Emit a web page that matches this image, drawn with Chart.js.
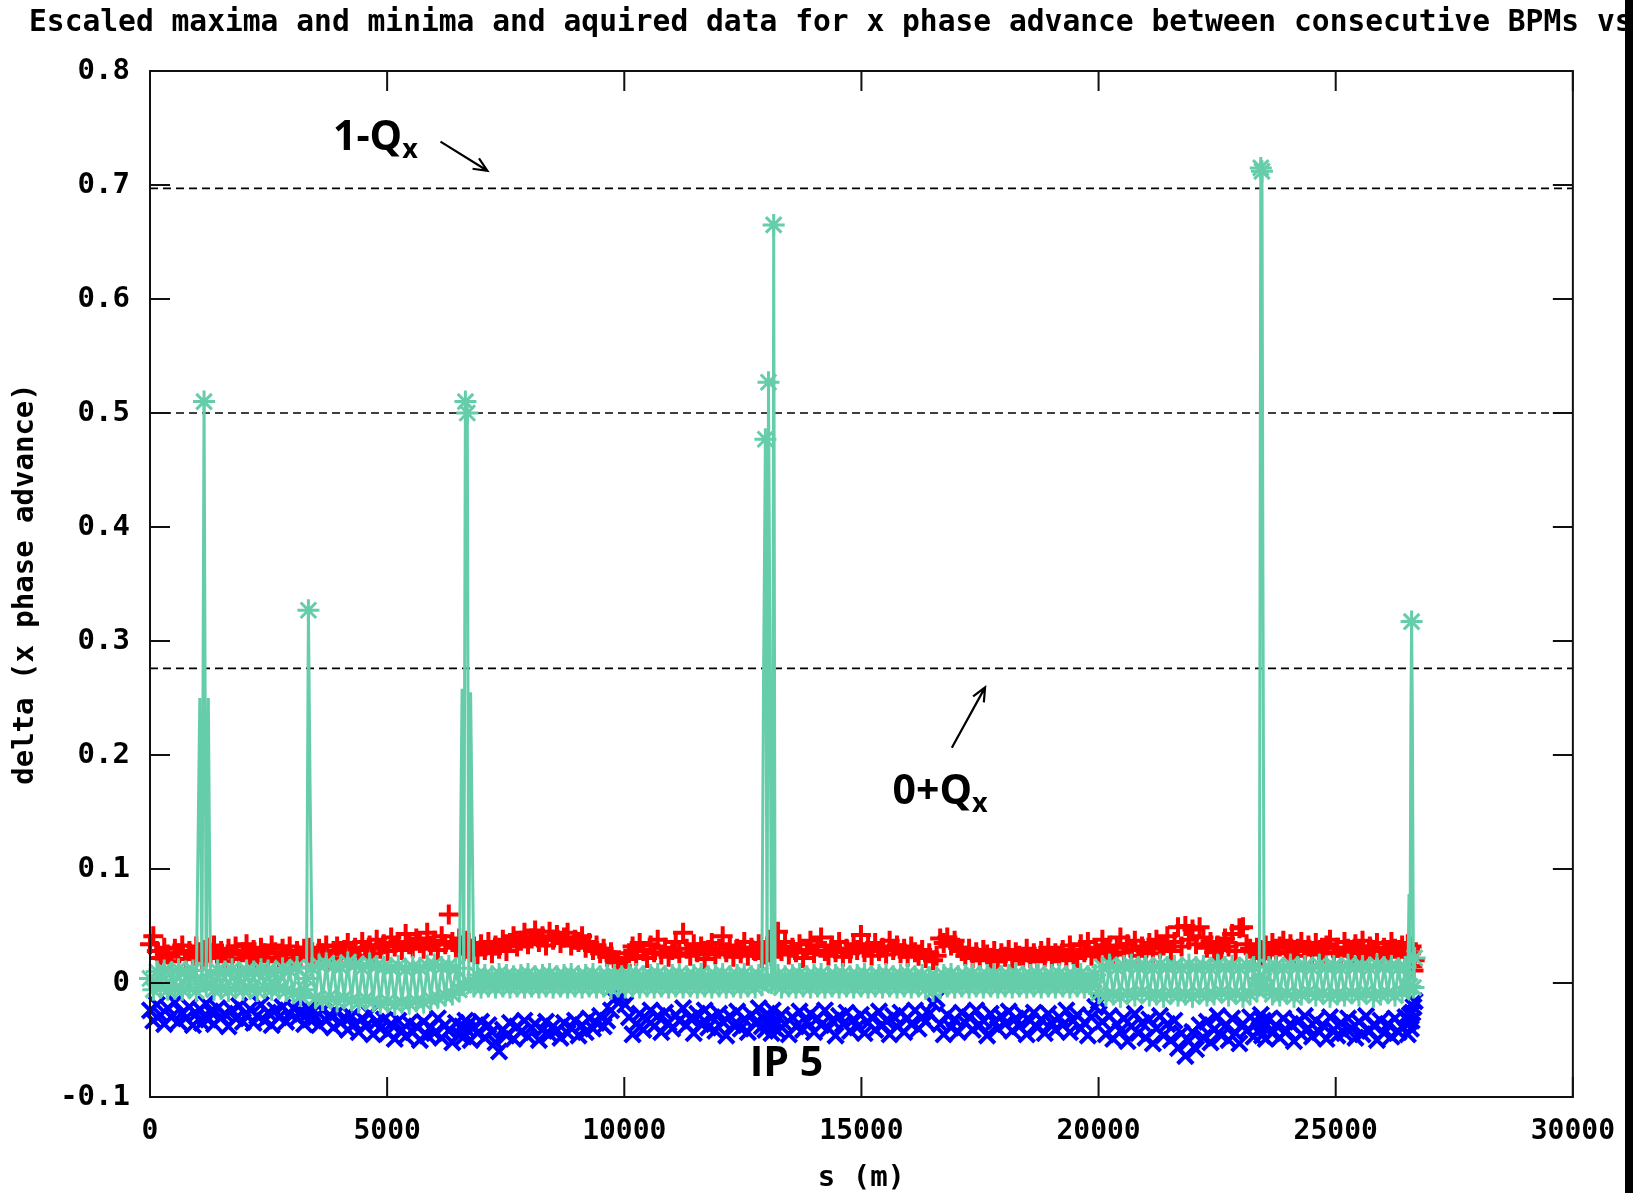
<!DOCTYPE html>
<html>
<head>
<meta charset="utf-8">
<title>x phase advance between consecutive BPMs</title>
<script src="https://cdn.jsdelivr.net/npm/chart.js@4.4.1/dist/chart.umd.min.js"></script>
<style>
  html, body { margin: 0; padding: 0; background: #fff; }
  #wrap { width: 1633px; height: 1193px; position: relative; }
</style>
</head>
<body>
<div id="wrap"><canvas id="phase-chart"></canvas></div>
<script>

// data =======================================================================

// BPM positions s (m)
const sPos = [
  0, 70, 145, 220, 300, 375, 450, 525, 600, 680,
  755, 830, 905, 975, 1050, 1095, 1140, 1185, 1230, 1275,
  1350, 1425, 1500, 1580, 1655, 1730, 1805, 1880, 1960, 2035,
  2110, 2185, 2260, 2340, 2415, 2490, 2565, 2640, 2720, 2795,
  2870, 2945, 3020, 3100, 3175, 3250, 3300, 3340, 3375, 3420,
  3490, 3565, 3640, 3715, 3790, 3870, 3945, 4020, 4095, 4170,
  4250, 4325, 4400, 4475, 4550, 4630, 4705, 4780, 4855, 4930,
  5010, 5085, 5160, 5235, 5310, 5390, 5465, 5540, 5615, 5690,
  5770, 5845, 5920, 5995, 6070, 6150, 6225, 6300, 6375, 6450,
  6520, 6580, 6615, 6650, 6690, 6720, 6760, 6830, 6905, 6980,
  7060, 7135, 7210, 7285, 7360, 7440, 7515, 7590, 7665, 7740,
  7820, 7895, 7970, 8045, 8120, 8200, 8275, 8350, 8425, 8500,
  8580, 8655, 8730, 8805, 8880, 8960, 9035, 9110, 9185, 9260,
  9340, 9415, 9490, 9565, 9640, 9720, 9795, 9870, 9945, 10020,
  10100, 10175, 10250, 10325, 10400, 10480, 10555, 10630, 10705, 10780,
  10860, 10935, 11010, 11085, 11160, 11240, 11315, 11390, 11465, 11540,
  11620, 11695, 11770, 11845, 11920, 12000, 12075, 12150, 12225, 12300,
  12380, 12455, 12530, 12605, 12680, 12760, 12835, 12900, 12935, 12975,
  13010, 13040, 13075, 13105, 13130, 13150, 13180, 13240, 13315, 13390,
  13470, 13545, 13620, 13695, 13770, 13850, 13925, 14000, 14075, 14150,
  14230, 14305, 14380, 14455, 14530, 14610, 14685, 14760, 14835, 14910,
  14990, 15065, 15140, 15215, 15290, 15370, 15445, 15520, 15595, 15670,
  15750, 15825, 15900, 15975, 16050, 16130, 16205, 16280, 16355, 16430,
  16510, 16585, 16660, 16735, 16810, 16890, 16965, 17040, 17115, 17190,
  17270, 17345, 17420, 17495, 17570, 17650, 17725, 17800, 17875, 17950,
  18030, 18105, 18180, 18255, 18330, 18410, 18485, 18560, 18635, 18710,
  18790, 18865, 18940, 19015, 19090, 19170, 19245, 19320, 19395, 19470,
  19550, 19625, 19700, 19775, 19850, 19930, 20005, 20080, 20155, 20230,
  20310, 20385, 20460, 20535, 20610, 20690, 20765, 20840, 20915, 20990,
  21070, 21145, 21220, 21295, 21370, 21450, 21525, 21600, 21675, 21750,
  21830, 21905, 21980, 22055, 22130, 22210, 22285, 22360, 22435, 22510,
  22590, 22665, 22740, 22815, 22890, 22970, 23045, 23120, 23195, 23270,
  23340, 23390, 23420, 23445, 23465, 23490, 23525, 23590, 23665, 23740,
  23820, 23895, 23970, 24045, 24120, 24200, 24275, 24350, 24425, 24500,
  24580, 24655, 24730, 24805, 24880, 24960, 25035, 25110, 25185, 25260,
  25340, 25415, 25490, 25565, 25640, 25720, 25795, 25870, 25945, 26020,
  26100, 26175, 26250, 26325, 26400, 26470, 26520, 26545, 26565, 26585,
  26600, 26615, 26640, 26665
];

// escaled maxima (red +)
const maxima = [
  0.034, 0.041, 0.028, 0.022, 0.031, 0.025, 0.019, 0.030, 0.026, 0.033,
  0.021, 0.028, 0.024, 0.032, 0.027, 0.020, 0.029, 0.023, 0.031, 0.026,
  0.033, 0.022, 0.028, 0.019, 0.030, 0.025, 0.032, 0.021, 0.027, 0.034,
  0.024, 0.029, 0.020, 0.031, 0.026, 0.022, 0.033, 0.027, 0.019, 0.030,
  0.025, 0.032, 0.021, 0.028, 0.024, 0.030, 0.026, 0.022, 0.031, 0.027,
  0.023, 0.030, 0.026, 0.033, 0.021, 0.028, 0.032, 0.025, 0.029, 0.035,
  0.027, 0.031, 0.024, 0.036, 0.029, 0.033, 0.026, 0.038, 0.030, 0.034,
  0.028, 0.040, 0.032, 0.036, 0.029, 0.043, 0.034, 0.031, 0.039, 0.035,
  0.030, 0.044, 0.033, 0.037, 0.029, 0.041, 0.034, 0.060, 0.036, 0.031,
  0.039, 0.033, 0.028, 0.037, 0.030, 0.035, 0.027, 0.032, 0.025, 0.034,
  0.029, 0.036, 0.026, 0.033, 0.030, 0.038, 0.028, 0.035, 0.041, 0.032,
  0.037, 0.044, 0.034, 0.039, 0.046, 0.036, 0.041, 0.033, 0.045, 0.038,
  0.042, 0.035, 0.040, 0.044, 0.033, 0.038, 0.036, 0.041, 0.031, 0.035,
  0.029, 0.033, 0.026, 0.030, 0.023, 0.027, 0.020, 0.018, 0.015, 0.021,
  0.026, 0.032, 0.024, 0.035, 0.028, 0.022, 0.033, 0.027, 0.038, 0.025,
  0.031, 0.023, 0.029, 0.036, 0.026, 0.044, 0.030, 0.024, 0.034, 0.027,
  0.032, 0.021, 0.029, 0.035, 0.025, 0.030, 0.041, 0.027, 0.033, 0.023,
  0.030, 0.026, 0.036, 0.024, 0.031, 0.028, 0.034, 0.022, 0.029, 0.025,
  0.032, 0.027, 0.035, 0.023, 0.030, 0.026, 0.033, 0.045, 0.028, 0.036,
  0.025, 0.031, 0.027, 0.034, 0.022, 0.029, 0.037, 0.026, 0.032, 0.040,
  0.028, 0.024, 0.033, 0.027, 0.036, 0.023, 0.030, 0.026, 0.034, 0.029,
  0.042, 0.027, 0.032, 0.024, 0.035, 0.028, 0.031, 0.025, 0.037, 0.029,
  0.033, 0.026, 0.030, 0.023, 0.032, 0.027, 0.024, 0.029, 0.022, 0.026,
  0.020, 0.024, 0.039, 0.035, 0.040, 0.033, 0.037, 0.031, 0.028, 0.024,
  0.030, 0.022, 0.027, 0.020, 0.029, 0.025, 0.021, 0.028, 0.019, 0.026,
  0.023, 0.029, 0.021, 0.027, 0.024, 0.020, 0.030, 0.022, 0.026, 0.019,
  0.028, 0.023, 0.031, 0.021, 0.026, 0.024, 0.029, 0.020, 0.033, 0.025,
  0.022, 0.034, 0.027, 0.036, 0.024, 0.030, 0.026, 0.038, 0.028, 0.033,
  0.025, 0.031, 0.040, 0.027, 0.034, 0.029, 0.037, 0.024, 0.032, 0.028,
  0.035, 0.026, 0.038, 0.030, 0.033, 0.041, 0.028, 0.036, 0.049, 0.032,
  0.050, 0.038, 0.047, 0.034, 0.049, 0.040, 0.031, 0.036, 0.027, 0.033,
  0.029, 0.039, 0.032, 0.043, 0.028, 0.048, 0.049, 0.034, 0.030, 0.026,
  0.031, 0.024, 0.029, 0.022, 0.027, 0.025, 0.033, 0.028, 0.035, 0.026,
  0.032, 0.037, 0.027, 0.034, 0.024, 0.030, 0.036, 0.028, 0.033, 0.025,
  0.035, 0.029, 0.026, 0.033, 0.038, 0.027, 0.031, 0.024, 0.036, 0.030,
  0.026, 0.034, 0.028, 0.037, 0.025, 0.032, 0.029, 0.035, 0.024, 0.031,
  0.027, 0.036, 0.030, 0.025, 0.033, 0.028, 0.034, 0.023, 0.030, 0.026,
  0.032, 0.015, 0.011, 0.020
];

// escaled minima (blue x)
const minima = [
  -0.024, -0.033, -0.019, -0.028, -0.036, -0.022, -0.030, -0.017, -0.034, -0.026,
  -0.031, -0.021, -0.037, -0.027, -0.023, -0.035, -0.029, -0.018, -0.032, -0.025,
  -0.036, -0.022, -0.030, -0.027, -0.038, -0.024, -0.031, -0.020, -0.034, -0.028,
  -0.023, -0.035, -0.029, -0.019, -0.033, -0.026, -0.037, -0.024, -0.030, -0.021,
  -0.034, -0.027, -0.022, -0.031, -0.025, -0.036, -0.028, -0.023, -0.032, -0.026,
  -0.030, -0.037, -0.024, -0.033, -0.028, -0.039, -0.026, -0.035, -0.030, -0.041,
  -0.029, -0.036, -0.043, -0.031, -0.038, -0.027, -0.045, -0.034, -0.040, -0.032,
  -0.044, -0.036, -0.049, -0.033, -0.041, -0.047, -0.035, -0.043, -0.038, -0.050,
  -0.034, -0.046, -0.039, -0.044, -0.031, -0.048, -0.037, -0.042, -0.052, -0.035,
  -0.045, -0.038, -0.047, -0.033, -0.041, -0.036, -0.050, -0.039, -0.044, -0.034,
  -0.048, -0.037, -0.043, -0.052, -0.060, -0.041, -0.046, -0.035, -0.049, -0.038,
  -0.043, -0.033, -0.047, -0.039, -0.036, -0.050, -0.041, -0.034, -0.045, -0.038,
  -0.042, -0.048, -0.035, -0.044, -0.039, -0.033, -0.046, -0.037, -0.043, -0.031,
  -0.040, -0.035, -0.029, -0.038, -0.033, -0.024, -0.014, -0.008, -0.011, -0.019,
  -0.030, -0.045, -0.036, -0.027, -0.041, -0.032, -0.024, -0.038, -0.029, -0.043,
  -0.026, -0.035, -0.040, -0.028, -0.033, -0.022, -0.037, -0.031, -0.044, -0.027,
  -0.036, -0.024, -0.039, -0.030, -0.042, -0.027, -0.034, -0.046, -0.029, -0.037,
  -0.025, -0.040, -0.032, -0.043, -0.028, -0.035, -0.022, -0.038, -0.031, -0.041,
  -0.027, -0.036, -0.030, -0.044, -0.024, -0.039, -0.033, -0.042, -0.028, -0.036,
  -0.045, -0.030, -0.038, -0.025, -0.041, -0.034, -0.027, -0.043, -0.031, -0.037,
  -0.024, -0.040, -0.033, -0.046, -0.029, -0.036, -0.026, -0.042, -0.032, -0.039,
  -0.028, -0.044, -0.035, -0.030, -0.041, -0.025, -0.037, -0.033, -0.045, -0.029,
  -0.038, -0.026, -0.043, -0.031, -0.036, -0.024, -0.040, -0.030, -0.034, -0.027,
  -0.018, -0.014, -0.036, -0.045, -0.028, -0.039, -0.032, -0.043, -0.026, -0.035,
  -0.030, -0.041, -0.024, -0.037, -0.033, -0.046, -0.027, -0.034, -0.040, -0.029,
  -0.036, -0.025, -0.042, -0.031, -0.038, -0.028, -0.045, -0.033, -0.026, -0.039,
  -0.032, -0.044, -0.027, -0.035, -0.041, -0.030, -0.037, -0.024, -0.043, -0.033,
  -0.028, -0.040, -0.035, -0.046, -0.030, -0.021, -0.016, -0.034, -0.045, -0.029,
  -0.049, -0.036, -0.042, -0.031, -0.051, -0.038, -0.027, -0.044, -0.035, -0.048,
  -0.032, -0.053, -0.040, -0.029, -0.046, -0.036, -0.050, -0.033, -0.057, -0.044,
  -0.064, -0.051, -0.043, -0.058, -0.037, -0.048, -0.034, -0.052, -0.041, -0.029,
  -0.046, -0.038, -0.050, -0.031, -0.044, -0.053, -0.036, -0.042, -0.030, -0.047,
  -0.035, -0.041, -0.028, -0.046, -0.033, -0.039, -0.049, -0.032, -0.044, -0.037,
  -0.048, -0.031, -0.042, -0.036, -0.051, -0.034, -0.045, -0.029, -0.040, -0.047,
  -0.033, -0.043, -0.037, -0.049, -0.030, -0.041, -0.046, -0.035, -0.044, -0.031,
  -0.040, -0.048, -0.034, -0.045, -0.029, -0.042, -0.037, -0.050, -0.033, -0.044,
  -0.036, -0.047, -0.031, -0.043, -0.038, -0.030, -0.045, -0.034, -0.028, -0.040,
  -0.033, -0.026, -0.021, -0.016
];

// aquired data (green *, joined)
const acquired = [
  0.004, -0.006, 0.010, -0.004, 0.011, -0.006, 0.009, -0.005, 0.012, -0.006,
  0.010, -0.004, 0.011, -0.007, 0.250, 0.002, 0.510, -0.002, 0.250, 0.007,
  -0.006, 0.011, -0.005, 0.010, -0.007, 0.012, -0.004, 0.009, -0.006, 0.011,
  -0.005, 0.010, -0.007, 0.012, -0.004, 0.011, -0.006, 0.009, -0.005, 0.013,
  -0.007, 0.011, -0.009, 0.014, -0.011, -0.006, 0.004, 0.327, 0.172, 0.013,
  -0.013, 0.016, -0.015, 0.017, -0.012, 0.015, -0.016, 0.014, -0.013, 0.018,
  -0.015, 0.016, -0.017, 0.013, -0.014, 0.017, -0.016, 0.015, -0.018, 0.014,
  -0.016, 0.013, -0.019, 0.015, -0.017, 0.012, -0.018, 0.014, -0.016, 0.013,
  -0.017, 0.015, -0.014, 0.016, -0.013, 0.014, -0.011, 0.015, -0.010, 0.013,
  -0.006, 0.258, -0.002, 0.510, 0.500, 0.001, 0.255, -0.003, 0.007, -0.004,
  0.007, -0.003, 0.006, -0.004, 0.008, -0.003, 0.007, -0.004, 0.006, -0.003,
  0.007, -0.004, 0.008, -0.003, 0.006, -0.004, 0.007, -0.003, 0.008, -0.004,
  0.006, -0.003, 0.007, -0.004, 0.008, -0.003, 0.006, -0.004, 0.007, -0.003,
  0.008, -0.004, 0.006, -0.003, 0.007, -0.005, 0.007, -0.003, 0.006, -0.004,
  0.007, -0.003, 0.008, -0.004, 0.006, -0.003, 0.007, -0.004, 0.008, -0.003,
  0.006, -0.004, 0.007, -0.003, 0.008, -0.004, 0.006, -0.003, 0.007, -0.004,
  0.008, -0.003, 0.006, -0.004, 0.007, -0.003, 0.008, -0.004, 0.006, -0.003,
  0.007, -0.004, 0.008, -0.003, 0.006, -0.004, 0.007, -0.002, 0.260, 0.477,
  0.004, 0.527, 0.262, 0.000, 0.003, 0.665, -0.001, 0.007, -0.004, 0.006,
  -0.003, 0.007, -0.004, 0.008, -0.003, 0.006, -0.004, 0.007, -0.003, 0.008,
  -0.004, 0.006, -0.003, 0.007, -0.004, 0.008, -0.003, 0.006, -0.004, 0.007,
  -0.003, 0.008, -0.004, 0.006, -0.003, 0.007, -0.004, 0.008, -0.003, 0.006,
  -0.004, 0.007, -0.003, 0.008, -0.004, 0.006, -0.003, 0.007, -0.005, 0.005,
  -0.007, 0.005, -0.004, 0.007, -0.003, 0.008, -0.004, 0.006, -0.003, 0.007,
  -0.004, 0.008, -0.003, 0.006, -0.004, 0.007, -0.003, 0.008, -0.004, 0.006,
  -0.003, 0.007, -0.004, 0.008, -0.003, 0.006, -0.004, 0.007, -0.003, 0.008,
  -0.004, 0.006, -0.003, 0.007, -0.004, 0.008, -0.003, 0.006, -0.004, 0.007,
  -0.003, 0.008, -0.004, 0.006, -0.003, 0.007, -0.009, 0.014, -0.011, 0.016,
  -0.010, 0.013, -0.012, 0.015, -0.009, 0.016, -0.011, 0.014, -0.008, 0.015,
  -0.011, 0.013, -0.010, 0.016, -0.012, 0.014, -0.009, 0.015, -0.011, 0.013,
  -0.010, 0.016, -0.012, 0.014, -0.009, 0.015, -0.011, 0.013, -0.010, 0.016,
  -0.008, 0.014, -0.011, 0.015, -0.009, 0.013, -0.012, 0.016, -0.010, 0.014,
  -0.006, 0.004, 0.715, 0.712, 0.360, 0.002, -0.005, 0.014, -0.010, 0.015,
  -0.011, 0.013, -0.009, 0.016, -0.012, 0.014, -0.010, 0.015, -0.008, 0.013,
  -0.011, 0.016, -0.009, 0.014, -0.012, 0.015, -0.010, 0.013, -0.011, 0.016,
  -0.009, 0.014, -0.011, 0.015, -0.008, 0.013, -0.012, 0.016, -0.010, 0.014,
  -0.009, 0.015, -0.011, 0.013, -0.008, 0.014, -0.004, 0.078, -0.003, 0.238,
  0.317, 0.240, -0.004, 0.022
];

// dashed reference levels: 1-Qx, 0.5, 0+Qx
const refLines = [0.697, 0.5, 0.276];

const chartTitle = 'Escaled maxima and minima and aquired data for x phase advance between consecutive BPMs vs s';


// helpers ====================================================================

const monoFont = '"DejaVu Sans Mono", "Liberation Mono", monospace';
const noteFont = '"Open Sans", "Noto Sans", sans-serif';
const red = '#ff0000';
const blue = '#0000ff';
const green = '#66cdaa';

const toPoints = values => values.map((v, i) => ({ x: sPos[i], y: v }));

// gnuplot shows no star on the low shoulders beside each spike
function isShoulder(i) {
  const v = acquired[i];
  if (v <= 0.05) return false;
  const prev = i > 0 ? acquired[i - 1] : -1;
  const next = i < acquired.length - 1 ? acquired[i + 1] : -1;
  return v < 0.3 || Math.max(prev, next) > v + 0.08;
}

function drawArrow(ctx, x1, y1, x2, y2) {
  const ang = Math.atan2(y2 - y1, x2 - x1);
  const head = 15;
  ctx.beginPath();
  ctx.moveTo(x1, y1);
  ctx.lineTo(x2, y2);
  ctx.moveTo(x2 - head * Math.cos(ang - 0.42), y2 - head * Math.sin(ang - 0.42));
  ctx.lineTo(x2, y2);
  ctx.lineTo(x2 - head * Math.cos(ang + 0.42), y2 - head * Math.sin(ang + 0.42));
  ctx.stroke();
}

function drawNote(ctx, text, sub, px, py) {
  ctx.font = `bold 41px ${noteFont}`;
  ctx.fillText(text, px, py);
  if (sub) {
    const w = ctx.measureText(text).width;
    ctx.font = `bold 27px ${noteFont}`;
    ctx.fillText(sub, px + w, py + 8);
  }
}


// gnuplot look: frame, inward ticks, dashed levels, notes ====================

const gnuplotFrame = {
  id: 'gnuplotFrame',
  beforeDatasetsDraw(chart) {
    const { ctx, chartArea: a, scales: { y } } = chart;
    ctx.save();
    ctx.strokeStyle = '#000';
    ctx.lineWidth = 1.6;
    ctx.setLineDash([8, 5]);
    refLines.forEach(v => {
      const py = y.getPixelForValue(v);
      ctx.beginPath();
      ctx.moveTo(a.left, py);
      ctx.lineTo(a.right, py);
      ctx.stroke();
    });
    ctx.restore();
  },
  afterDatasetsDraw(chart) {
    const { ctx, chartArea: a, scales: { x, y } } = chart;
    const tickLen = 20;
    ctx.save();
    ctx.strokeStyle = '#111';
    ctx.lineWidth = 2;
    ctx.strokeRect(a.left, a.top, a.right - a.left, a.bottom - a.top);
    ctx.beginPath();
    y.ticks.forEach(t => {
      const py = y.getPixelForValue(t.value);
      ctx.moveTo(a.left, py); ctx.lineTo(a.left + tickLen, py);
      ctx.moveTo(a.right, py); ctx.lineTo(a.right - tickLen, py);
    });
    x.ticks.forEach(t => {
      const px = x.getPixelForValue(t.value);
      ctx.moveTo(px, a.bottom); ctx.lineTo(px, a.bottom - tickLen);
      ctx.moveTo(px, a.top); ctx.lineTo(px, a.top + tickLen);
    });
    ctx.stroke();
    ctx.restore();
  },
  afterDraw(chart) {
    const { ctx, scales: { x, y } } = chart;
    ctx.save();

    ctx.fillStyle = '#000';
    ctx.textBaseline = 'alphabetic';
    ctx.font = `bold 29.6px ${monoFont}`;
    ctx.fillText(chartTitle, 29, 31);

    // 1-Qx
    drawNote(ctx, '1-Q', 'x', x.getPixelForValue(3858), y.getPixelForValue(0.731));
    ctx.strokeStyle = '#000';
    ctx.lineWidth = 2.2;
    drawArrow(ctx, x.getPixelForValue(6125), y.getPixelForValue(0.738),
                   x.getPixelForValue(7114), y.getPixelForValue(0.7125));

    // 0+Qx
    drawNote(ctx, '0+Q', 'x', x.getPixelForValue(15656), y.getPixelForValue(0.157));
    drawArrow(ctx, x.getPixelForValue(16906), y.getPixelForValue(0.2063),
                   x.getPixelForValue(17607), y.getPixelForValue(0.2593));

    drawNote(ctx, 'IP 5', null, x.getPixelForValue(12646), y.getPixelForValue(-0.0815));

    // dark strip on the right edge of the original picture
    ctx.fillStyle = '#000';
    ctx.fillRect(1625, 0, chart.width - 1625, chart.height);
    ctx.restore();
  }
};


// chart ======================================================================

const phaseChart = new Chart(document.getElementById('phase-chart'), {
  type: 'scatter',
  data: {
    datasets: [{
      label: 'aquired',
      data: toPoints(acquired),
      showLine: true,
      borderColor: green,
      borderWidth: 3,
      pointStyle: 'star',
      pointRadius: ctx => isShoulder(ctx.dataIndex) ? 0 : 11,
      pointBorderWidth: 3,
      pointBorderColor: green,
      pointBackgroundColor: green,
      clip: false,
      order: 0
    }, {
      label: 'maxima',
      data: toPoints(maxima),
      showLine: false,
      pointStyle: 'cross',
      pointRadius: 10,
      pointBorderWidth: 4,
      pointBorderColor: red,
      pointBackgroundColor: red,
      clip: false,
      order: 1
    }, {
      label: 'minima',
      data: toPoints(minima),
      showLine: false,
      pointStyle: 'crossRot',
      pointRadius: 11,
      pointBorderWidth: 4,
      pointBorderColor: blue,
      pointBackgroundColor: blue,
      clip: false,
      order: 2
    }]
  },
  options: {
    responsive: true,
    maintainAspectRatio: false,
    animation: false,
    layout: {
      padding: { top: 71, right: 60, left: 0, bottom: 0 }
    },
    plugins: {
      legend: { display: false },
      tooltip: { enabled: false },
      title: { display: false }
    },
    scales: {
      x: {
        type: 'linear',
        min: 0,
        max: 30000,
        afterFit: scale => { scale.height = 96; },
        grid: { display: false, drawTicks: false },
        border: { display: false },
        ticks: {
          stepSize: 5000,
          padding: 18,
          autoSkip: false,
          maxRotation: 0,
          color: '#000',
          font: { family: monoFont, size: 28, weight: 'bold' },
          callback: v => String(v)
        },
        title: {
          display: true,
          text: 's (m)',
          color: '#000',
          font: { family: monoFont, size: 29, weight: 'bold' },
          padding: { top: 0, bottom: -3 }
        }
      },
      y: {
        type: 'linear',
        min: -0.1,
        max: 0.8,
        afterFit: scale => { scale.width = 150; },
        grid: { display: false, drawTicks: false },
        border: { display: false },
        ticks: {
          stepSize: 0.1,
          padding: 20,
          autoSkip: false,
          color: '#000',
          font: { family: monoFont, size: 29, weight: 'bold' },
          callback: v => {
            const r = Math.round(v * 10) / 10;
            return r === 0 ? '0' : r.toFixed(1);
          }
        },
        title: {
          display: true,
          text: 'delta (x phase advance)',
          color: '#000',
          font: { family: monoFont, size: 29, weight: 'bold' },
          padding: { top: 8, bottom: 0 }
        }
      }
    }
  },
  plugins: [gnuplotFrame]
});

</script>
</body>
</html>
